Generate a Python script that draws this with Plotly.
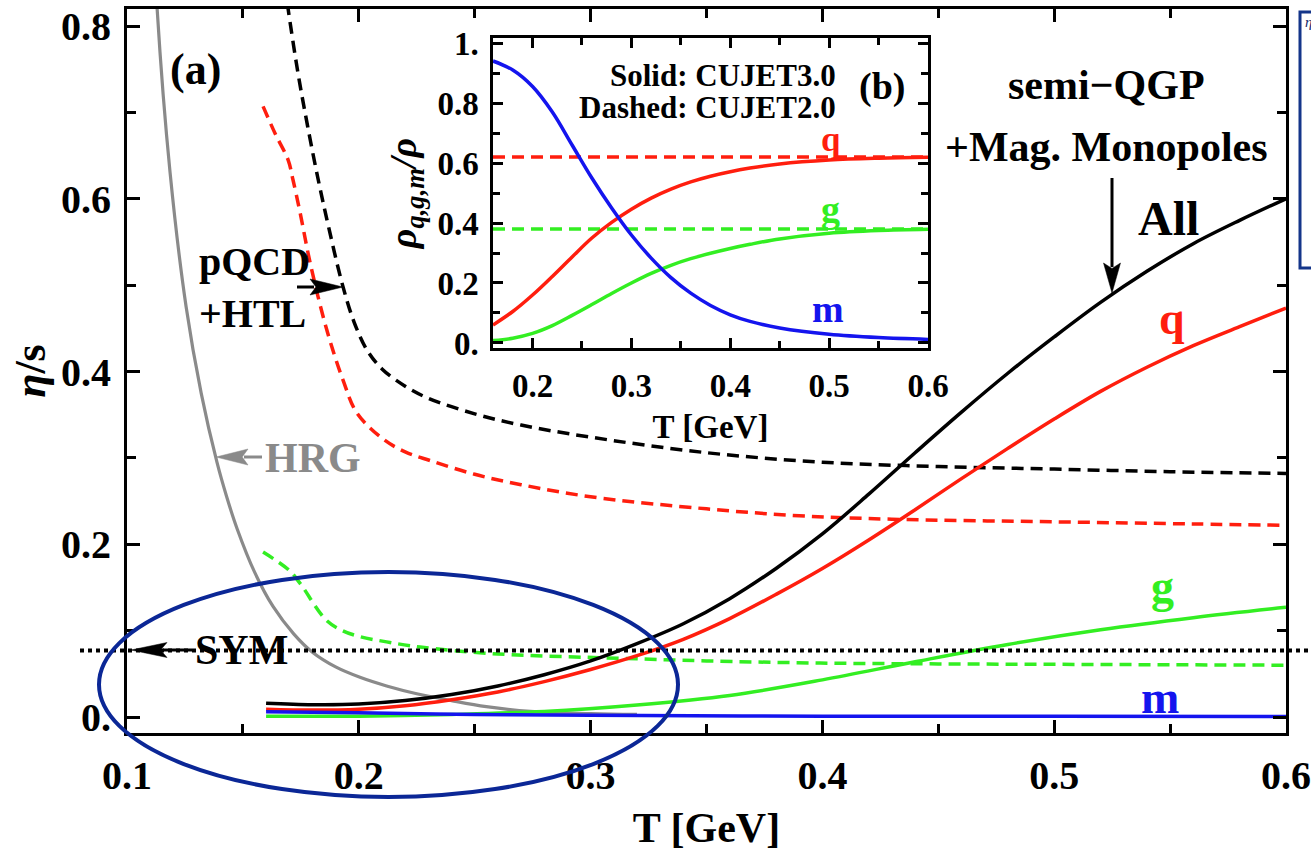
import math
import plotly.graph_objects as go

# ---------------- data ----------------
# main panel (a): eta/s vs T [GeV]
T_HRG = [0.110, 0.113, 0.1186, 0.1255, 0.132, 0.1388, 0.143, 0.1475, 0.155, 0.163, 0.172,
         0.180, 0.190, 0.2005, 0.212, 0.225, 0.240, 0.255, 0.274, 0.300, 0.320]
ETA_HRG = [1.00, 0.82, 0.63, 0.475, 0.375, 0.295, 0.255, 0.218, 0.168, 0.128, 0.096,
           0.075, 0.058, 0.046, 0.036, 0.027, 0.019, 0.012, 0.0065, 0.004, 0.003]

T_ALL2 = [0.167, 0.1695, 0.1738, 0.178, 0.1825, 0.187, 0.193, 0.198, 0.2035, 0.21, 0.22,
          0.23, 0.25, 0.27, 0.30, 0.35, 0.40, 0.45, 0.50, 0.55, 0.60]
ETA_ALL2 = [0.87, 0.82, 0.745, 0.683, 0.622, 0.567, 0.500, 0.457, 0.425, 0.403, 0.383,
            0.369, 0.351, 0.338, 0.324, 0.306, 0.295, 0.290, 0.287, 0.284, 0.282]

T_Q2 = [0.1587, 0.164, 0.1695, 0.1716, 0.1746, 0.179, 0.186, 0.1932, 0.1992, 0.2104, 0.22,
        0.2307, 0.25, 0.27, 0.30, 0.35, 0.39, 0.43, 0.50, 0.56, 0.60]
ETA_Q2 = [0.707, 0.675, 0.645, 0.622, 0.585, 0.526, 0.450, 0.390, 0.352, 0.322, 0.307,
          0.297, 0.281, 0.269, 0.255, 0.241, 0.233, 0.229, 0.226, 0.2235, 0.222]

T_G2 = [0.1587, 0.1699, 0.1746, 0.186, 0.193, 0.2005, 0.212, 0.2264, 0.26, 0.3127, 0.35,
        0.399, 0.45, 0.50, 0.55, 0.60]
ETA_G2 = [0.191, 0.170, 0.155, 0.112, 0.100, 0.093, 0.087, 0.081, 0.073, 0.068, 0.065,
          0.0625, 0.0615, 0.061, 0.0605, 0.060]

T_ALL3 = [0.16, 0.18, 0.20, 0.22, 0.24, 0.26, 0.28, 0.30, 0.32, 0.34, 0.36, 0.38, 0.40,
          0.42, 0.44, 0.46, 0.48, 0.50, 0.52, 0.54, 0.56, 0.58, 0.60]
ETA_ALL3 = [0.016, 0.0143, 0.015, 0.019, 0.026, 0.036, 0.049, 0.065, 0.085, 0.108, 0.137,
            0.172, 0.212, 0.258, 0.306, 0.353, 0.398, 0.440, 0.480, 0.516, 0.548, 0.575, 0.600]

T_Q3 = [0.16, 0.18, 0.20, 0.22, 0.24, 0.26, 0.28, 0.30, 0.32, 0.34, 0.36, 0.38, 0.40,
        0.42, 0.44, 0.46, 0.48, 0.50, 0.52, 0.54, 0.56, 0.58, 0.60]
ETA_Q3 = [0.009, 0.008, 0.009, 0.013, 0.020, 0.029, 0.041, 0.055, 0.071, 0.090, 0.114,
          0.142, 0.172, 0.205, 0.240, 0.276, 0.311, 0.345, 0.377, 0.405, 0.430, 0.452, 0.4735]

T_G3 = [0.16, 0.20, 0.24, 0.28, 0.32, 0.36, 0.40, 0.44, 0.48, 0.52, 0.56, 0.60]
ETA_G3 = [0.001, 0.001, 0.003, 0.0065, 0.014, 0.025, 0.043, 0.064, 0.084, 0.101, 0.115, 0.127]

T_M3 = [0.16, 0.20, 0.25, 0.30, 0.40, 0.50, 0.60]
ETA_M3 = [0.006, 0.005, 0.003, 0.002, 0.001, 0.0008, 0.0006]

SYM_VALUE = 0.077   # KSS bound line

# inset panel (b): rho_{q,g,m}/rho vs T [GeV]
T_IN = [0.16, 0.18, 0.20, 0.22, 0.24, 0.26, 0.28, 0.30, 0.32, 0.34, 0.36, 0.38, 0.40,
        0.42, 0.45, 0.50, 0.55, 0.60]
M_IN = [0.94, 0.91, 0.855, 0.77, 0.66, 0.55, 0.45, 0.36, 0.283, 0.218, 0.166, 0.125, 0.094,
        0.072, 0.050, 0.029, 0.018, 0.012]
Q_IN = [0.06, 0.105, 0.16, 0.222, 0.287, 0.35, 0.402, 0.446, 0.483, 0.513, 0.537, 0.556,
        0.571, 0.583, 0.597, 0.610, 0.616, 0.619]
G_IN = [0.008, 0.016, 0.032, 0.058, 0.092, 0.128, 0.165, 0.200, 0.232, 0.259, 0.281, 0.299,
        0.315, 0.329, 0.347, 0.366, 0.375, 0.379]
T_IN2 = [0.16, 0.60]
Q2_IN = [0.62, 0.62]
G2_IN = [0.38, 0.38]

X_TICKS = [0.1, 0.2, 0.3, 0.4, 0.5, 0.6]
X_TICK_TEXT = ["0.1", "0.2", "0.3", "0.4", "0.5", "0.6"]
X_MINOR = [0.15, 0.25, 0.35, 0.45, 0.55]
Y_TICKS = [0.0, 0.2, 0.4, 0.6, 0.8]
Y_TICK_TEXT = ["0.", "0.2", "0.4", "0.6", "0.8"]
Y_MINOR = [0.1, 0.3, 0.5, 0.7]

XI_TICKS = [0.2, 0.3, 0.4, 0.5, 0.6]
XI_TICK_TEXT = ["0.2", "0.3", "0.4", "0.5", "0.6"]
XI_MINOR = [0.25, 0.35, 0.45, 0.55]
YI_TICKS = [0.0, 0.2, 0.4, 0.6, 0.8, 1.0]
YI_TICK_TEXT = ["0.", "0.2", "0.4", "0.6", "0.8", "1."]
YI_MINOR = [0.1, 0.3, 0.5, 0.7, 0.9]

# ---------------- layout geometry ----------------
W, H = 1311, 853
ML, MR, MT, MB = 127, 25, 9, 120
PW = W - ML - MR
PH = H - MT - MB


def px(x):
    return (x - ML) / PW


def py(y):
    return (H - MB - y) / PH


FONT = "Liberation Serif"
RED = "#ff1e0e"
GREEN = "#33ee22"
BLUE = "#1414ee"
GRAY = "#8a8a8a"
NAVY = "#0b2796"

fig = go.Figure()


def add_line(x, y, color, dash=None, width=3.5, xa="x", ya="y", shape="spline"):
    fig.add_trace(go.Scatter(
        x=x, y=y, mode="lines", xaxis=xa, yaxis=ya, showlegend=False, hoverinfo="skip",
        line=dict(color=color, width=width, dash=dash, shape=shape, smoothing=1.0)))


DASH_MAIN = "12px,7px"
# main panel
add_line(T_HRG, ETA_HRG, GRAY, width=3.2)
add_line(T_G2, ETA_G2, GREEN, dash=DASH_MAIN)
add_line(T_Q2, ETA_Q2, RED, dash=DASH_MAIN)
add_line(T_ALL2, ETA_ALL2, "black", dash=DASH_MAIN)
add_line(T_G3, ETA_G3, GREEN)
add_line(T_Q3, ETA_Q3, RED)
add_line(T_ALL3, ETA_ALL3, "black")
add_line(T_M3, ETA_M3, BLUE)

# inset
DASH_IN = "12px,7px"
add_line(T_IN2, Q2_IN, RED, dash=DASH_IN, width=3.5, xa="x2", ya="y2", shape="linear")
add_line(T_IN2, G2_IN, GREEN, dash=DASH_IN, width=3.5, xa="x2", ya="y2", shape="linear")
add_line(T_IN, Q_IN, RED, width=3.5, xa="x2", ya="y2")
add_line(T_IN, G_IN, GREEN, width=3.5, xa="x2", ya="y2")
add_line(T_IN, M_IN, BLUE, width=3.5, xa="x2", ya="y2")


def axis(tickvals, ticktext, minor, rng, size, lw, tl, mtl, **kw):
    d = dict(
        range=rng, showline=True, linecolor="black", linewidth=lw, mirror="ticks",
        ticks="inside", tickcolor="black", tickwidth=lw, ticklen=tl,
        tickmode="array", tickvals=tickvals, ticktext=ticktext,
        minor=dict(tickmode="array", tickvals=minor, ticks="inside", ticklen=mtl,
                   tickwidth=lw, tickcolor="black", showgrid=False),
        showgrid=False, zeroline=False, fixedrange=True, automargin=False,
        tickfont=dict(family=FONT, size=size, color="black", weight="bold"),
    )
    d.update(kw)
    return d


TITLE_MAIN = dict(family=FONT, size=42, color="black", weight="bold")
TITLE_IN = dict(family=FONT, size=33, color="black", weight="bold")

fig.update_layout(
    template="none",
    width=W, height=H,
    margin=dict(l=ML, r=MR, t=MT, b=MB, pad=0, autoexpand=False),
    paper_bgcolor="white", plot_bgcolor="white",
    showlegend=False,
    xaxis=axis(X_TICKS, X_TICK_TEXT, X_MINOR, [0.1, 0.6], 40, 3, 13, 9,
               domain=[0, 1], anchor="y", ticklabelstandoff=5,
               title=dict(text="T [GeV]", font=TITLE_MAIN, standoff=16)),
    yaxis=axis(Y_TICKS, Y_TICK_TEXT, Y_MINOR, [-0.0185, 0.8197], 40, 3, 13, 9,
               domain=[0, 1], anchor="x", ticklabelstandoff=5,
               title=dict(text="<i>η</i>/s", font=dict(TITLE_MAIN, size=44), standoff=2)),
    xaxis2=axis(XI_TICKS, XI_TICK_TEXT, XI_MINOR, [0.16, 0.6], 33, 2.5, 10, 7,
                domain=[px(493), px(928)], anchor="y2", ticklabelstandoff=7,
                title=dict(text="T [GeV]", font=TITLE_IN, standoff=12)),
    yaxis2=axis(YI_TICKS, YI_TICK_TEXT, YI_MINOR, [-0.0167, 1.0167], 33, 2.5, 10, 7,
                domain=[py(348), py(38)], anchor="x2", ticklabelstandoff=5,
                title=dict(text="<i>ρ</i><sub><i>q,g,m</i></sub><i>/ρ</i>",
                           font=dict(TITLE_IN, size=38), standoff=10)),
)

# ---------------- annotations ----------------
ann = []


def text(x, y, s, size, color="black", xanchor="center", align="center"):
    ann.append(dict(x=px(x), y=py(y), xref="paper", yref="paper", text=s, showarrow=False,
                    xanchor=xanchor, yanchor="middle", align=align,
                    font=dict(family=FONT, size=size, color=color, weight="bold")))


text(195, 70, "(a)", 44)
text(197, 287, "pQCD<br>+HTL", 40, xanchor="left", align="left")
text(263, 458, "HRG", 42, color=GRAY, xanchor="left")
text(193, 650, "SYM", 42, xanchor="left")
text(1106, 85, "semi−QGP", 42)
text(1106, 147, "+Mag. Monopoles", 42)
text(1168, 218, "All", 48)
text(1172, 318, "q", 46, color=RED)
text(1162, 586, "g", 46, color=GREEN)
text(1160, 697, "m", 46, color=BLUE)
# inset texts
text(838, 75, "Solid: CUJET3.0", 31, xanchor="right")
text(838, 107, "Dashed: CUJET2.0", 31, xanchor="right")
text(882, 86, "(b)", 38)
text(831, 139, "q", 35, color=RED)
text(830, 209, "g", 38, color=GREEN)
text(828, 309, "m", 38, color=BLUE)
# fragment of the neighbouring panel's legend box
ann.append(dict(x=px(1303), y=py(22), xref="paper", yref="paper", text="<i>η</i>",
                showarrow=False, xanchor="left", yanchor="middle",
                font=dict(family=FONT, size=15, color="#1a2a6a")))

fig.update_layout(annotations=ann)

# ---------------- shapes: arrows, ellipse, box, SYM line ----------------
shapes = []


def arrow(x0, y0, x1, y1, color, head_len=32, head_w=16, width=3):
    dx, dy = x1 - x0, y1 - y0
    L = math.hypot(dx, dy)
    ux, uy = dx / L, dy / L
    bx, by = x1 - ux * head_len, y1 - uy * head_len
    nx, ny = -uy, ux
    shapes.append(dict(type="line", xref="paper", yref="paper",
                       x0=px(x0), y0=py(y0), x1=px(bx + ux * 4), y1=py(by + uy * 4),
                       line=dict(color=color, width=width)))
    p1 = (bx + nx * head_w / 2, by + ny * head_w / 2)
    p2 = (bx - nx * head_w / 2, by - ny * head_w / 2)
    notch = (bx + ux * head_len * 0.18, by + uy * head_len * 0.18)
    path = "M {} {} L {} {} L {} {} L {} {} Z".format(
        px(x1), py(y1), px(p1[0]), py(p1[1]), px(notch[0]), py(notch[1]), px(p2[0]), py(p2[1]))
    shapes.append(dict(type="path", xref="paper", yref="paper", path=path,
                       fillcolor=color, line=dict(color=color, width=0.5)))


arrow(297, 287, 343, 287, "black", head_len=33, head_w=16)
arrow(262, 457, 216, 457, GRAY, head_len=32, head_w=16)
arrow(192, 650, 131, 650, "black", head_len=36, head_w=15)
arrow(1112, 178, 1112, 293, "black", head_len=30, head_w=17)

# dotted SYM (1/4pi) line, extends past both frame edges
shapes.append(dict(type="line", xref="paper", yref="y", x0=px(80), x1=px(1320),
                   y0=SYM_VALUE, y1=SYM_VALUE, line=dict(color="black", width=4, dash="dot"),
                   layer="above"))

# highlight ellipse
shapes.append(dict(type="circle", xref="paper", yref="paper",
                   x0=px(99), x1=px(678), y0=py(797), y1=py(572),
                   line=dict(color=NAVY, width=4)))

# cut-off box of the neighbouring panel at the right edge
shapes.append(dict(type="rect", xref="paper", yref="paper",
                   x0=px(1300), x1=px(1340), y0=py(268), y1=py(12),
                   line=dict(color="#14358a", width=3)))

fig.update_layout(shapes=shapes)

fig.write_html(
    "out.html",
    post_script=("document.body.style.margin='0';"
                 "document.documentElement.style.overflow='hidden';"
                 "document.body.style.overflow='hidden';"),
)
